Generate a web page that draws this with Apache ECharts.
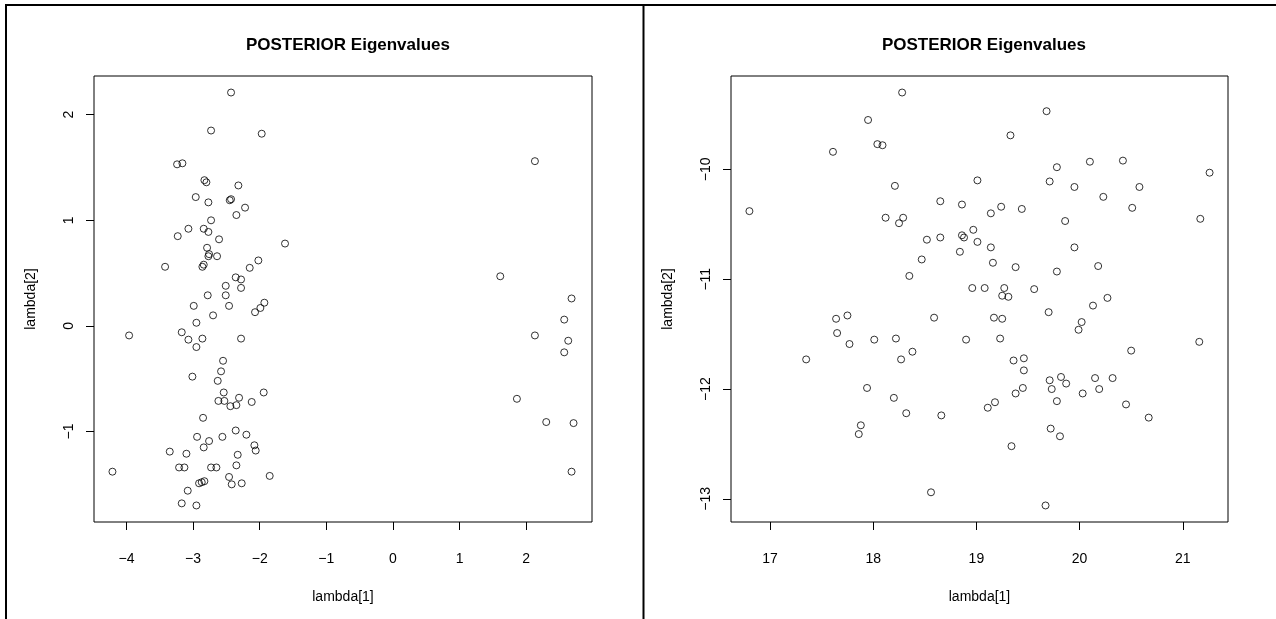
<!DOCTYPE html>
<html>
<head>
<meta charset="utf-8">
<script src="https://cdn.jsdelivr.net/npm/echarts@6/dist/echarts.min.js"></script>
<style>
html,body{margin:0;padding:0;background:#fff;}
#chart{width:1276px;height:619px;}
</style>
</head>
<body>
<div id="chart"></div>
<script>
// ---- Data ----
const chartTitle = "POSTERIOR Eigenvalues";
const xName = "lambda[1]";
const yName = "lambda[2]";

const leftX = [-2.43,-2.73,-1.97,-3.24,-3.16,-2.83,-2.80,-2.32,-2.96,-2.77,-2.43,-2.45,-2.22,-2.35,-2.73,-3.07,-2.84,-2.77,-3.23,-2.61,-1.62,-2.79,-2.76,-2.77,-2.64,-3.42,-2.86,-2.84,-2.02,-2.15,-2.36,-2.28,-2.51,-2.28,-2.78,-2.51,
  -2.99,-2.46,-1.93,-1.99,-2.07,-2.70,-2.95,-3.96,-3.17,-3.07,-2.86,-2.95,-2.28,-2.55,-2.58,-3.01,-2.63,-2.54,-1.94,-2.31,-2.62,-2.53,-2.35,-2.44,-2.12,-2.85,-2.36,-2.20,-2.94,-2.56,-2.76,-2.84,-2.08,-2.06,-3.35,-3.10,-2.33,-2.35,-3.21,-3.13,-2.73,-2.65,-4.21,-2.46,-1.85,-2.91,-2.87,-2.83,-2.42,-2.27,-3.08,-3.17,-2.95,
  1.61,2.68,2.57,2.13,2.63,2.57,1.86,2.30,2.71,2.68,2.13];
const leftY = [2.21,1.85,1.82,1.53,1.54,1.38,1.36,1.33,1.22,1.17,1.20,1.19,1.12,1.05,1.00,0.92,0.92,0.89,0.85,0.82,0.78,0.74,0.68,0.66,0.66,0.56,0.56,0.58,0.62,0.55,0.46,0.44,0.38,0.36,0.29,0.29,
  0.19,0.19,0.22,0.17,0.13,0.10,0.03,-0.09,-0.06,-0.13,-0.12,-0.20,-0.12,-0.33,-0.43,-0.48,-0.52,-0.63,-0.63,-0.68,-0.71,-0.71,-0.75,-0.76,-0.72,-0.87,-0.99,-1.03,-1.05,-1.05,-1.09,-1.15,-1.13,-1.18,-1.19,-1.21,-1.22,-1.32,-1.34,-1.34,-1.34,-1.34,-1.38,-1.43,-1.42,-1.49,-1.48,-1.47,-1.50,-1.49,-1.56,-1.68,-1.70,
  0.47,0.26,0.06,-0.09,-0.14,-0.25,-0.69,-0.91,-0.92,-1.38,1.56];

const rightX = [18.28,17.95,18.04,18.09,17.61,16.80,18.21,19.01,18.65,18.86,18.12,18.29,18.25,18.97,18.52,18.65,18.86,18.88,19.01,18.84,18.47,18.35,18.96,17.64,17.75,18.59,
  19.68,19.33,20.10,20.42,19.78,21.26,19.71,19.95,20.58,20.23,19.24,19.14,19.44,20.51,21.17,19.86,19.14,19.95,19.16,19.38,19.78,20.18,19.08,19.27,19.25,19.31,19.56,20.27,20.13,19.70,19.17,19.25,20.02,
  18.90,19.99,19.23,21.16,20.50,19.36,19.46,19.46,19.71,19.82,19.87,19.73,19.45,19.38,20.15,20.32,20.19,20.03,19.78,19.18,19.11,20.45,20.67,19.72,19.81,19.34,19.67,
  17.65,17.77,17.35,18.01,18.22,18.38,18.27,17.94,18.20,18.32,18.66,17.88,17.86,18.56];
const rightY = [-9.30,-9.55,-9.77,-9.78,-9.84,-10.38,-10.15,-10.10,-10.29,-10.32,-10.44,-10.44,-10.49,-10.55,-10.64,-10.62,-10.60,-10.62,-10.66,-10.75,-10.82,-10.97,-11.08,-11.36,-11.33,-11.35,
  -9.47,-9.69,-9.93,-9.92,-9.98,-10.03,-10.11,-10.16,-10.16,-10.25,-10.34,-10.40,-10.36,-10.35,-10.45,-10.47,-10.71,-10.71,-10.85,-10.89,-10.93,-10.88,-11.08,-11.08,-11.15,-11.16,-11.09,-11.17,-11.24,-11.30,-11.35,-11.36,-11.39,
  -11.55,-11.46,-11.54,-11.57,-11.65,-11.74,-11.72,-11.83,-11.92,-11.89,-11.95,-12.00,-11.99,-12.04,-11.90,-11.90,-12.00,-12.04,-12.11,-12.12,-12.17,-12.14,-12.26,-12.36,-12.43,-12.52,-13.06,
  -11.49,-11.59,-11.73,-11.55,-11.54,-11.66,-11.73,-11.99,-12.08,-12.22,-12.24,-12.33,-12.41,-12.94];

const leftXTicks = [-4,-3,-2,-1,0,1,2];
const leftYTicks = [-1,0,1,2];
const rightXTicks = [17,18,19,20,21];
const rightYTicks = [-13,-12,-11,-10];

// ---- Helpers ----
function extRange(arr){ // R-style 4% range extension
  const mn = Math.min(...arr), mx = Math.max(...arr);
  const d = (mx - mn) * 0.04;
  return [mn - d, mx + d];
}
function pairs(xs, ys){ return xs.map((x,i)=>[x, ys[i]]); }
const FONT = "'Liberation Sans', Arial, Helvetica, sans-serif";

function xAxis(gi, range, ticks){
  return {
    type:'value', gridIndex:gi, min:range[0], max:range[1], position:'bottom',
    name:xName, nameLocation:'middle', nameGap:68,
    nameTextStyle:{color:'#000', fontFamily:FONT, fontSize:14},
    axisLine:{show:false, onZero:false}, splitLine:{show:false},
    axisTick:{show:true, inside:false, length:8, customValues:ticks, lineStyle:{color:'#000', width:1}},
    axisLabel:{show:true, customValues:ticks, margin:30, color:'#000', fontFamily:FONT, fontSize:14,
      formatter:v=>String(v).replace('-', '\u2212')}
  };
}
function yAxis(gi, range, ticks){
  return {
    type:'value', gridIndex:gi, min:range[0], max:range[1], position:'left',
    name:yName, nameLocation:'middle', nameGap:56, nameRotate:90,
    nameTextStyle:{color:'#000', fontFamily:FONT, fontSize:14},
    axisLine:{show:false, onZero:false}, splitLine:{show:false},
    axisTick:{show:true, inside:false, length:8, customValues:ticks, lineStyle:{color:'#000', width:1}},
    axisLabel:{show:true, customValues:ticks, margin:18, rotate:90, color:'#000', fontFamily:FONT, fontSize:14,
      formatter:v=>String(v).replace('-', '\u2212')}
  };
}
function series(xi, yi, data){
  return {
    type:'scatter', xAxisIndex:xi, yAxisIndex:yi, data:data,
    symbol:'circle', symbolSize:7, silent:true,
    itemStyle:{color:'rgba(0,0,0,0)', borderColor:'#000', borderWidth:1},
    emphasis:{disabled:true}
  };
}

const chart = echarts.init(document.getElementById('chart'), null, {renderer:'canvas'});
const option = {
  backgroundColor:'#fff',
  animation:false,
  title:[
    {text:chartTitle, left:343, top:32, textAlign:'center',
      textStyle:{fontFamily:FONT, fontSize:17, fontWeight:'bold', color:'#000'}},
    {text:chartTitle, left:979, top:32, textAlign:'center',
      textStyle:{fontFamily:FONT, fontSize:17, fontWeight:'bold', color:'#000'}}
  ],
  grid:[
    {left:94, top:76, width:498, height:446, show:true, borderColor:'#000', borderWidth:1, backgroundColor:'transparent'},
    {left:731, top:76, width:497, height:446, show:true, borderColor:'#000', borderWidth:1, backgroundColor:'transparent'}
  ],
  xAxis:[ xAxis(0, extRange(leftX), leftXTicks), xAxis(1, extRange(rightX), rightXTicks) ],
  yAxis:[ yAxis(0, extRange(leftY), leftYTicks), yAxis(1, extRange(rightY), rightYTicks) ],
  series:[ series(0,0,pairs(leftX,leftY)), series(1,1,pairs(rightX,rightY)) ],
  graphic:[
    {type:'line', shape:{x1:5, y1:5, x2:1276, y2:5}, style:{stroke:'#000', lineWidth:2}, silent:true},
    {type:'line', shape:{x1:6, y1:4, x2:6, y2:619}, style:{stroke:'#000', lineWidth:2}, silent:true},
    {type:'line', shape:{x1:643.5, y1:4, x2:643.5, y2:619}, style:{stroke:'#000', lineWidth:2}, silent:true}
  ]
};
chart.setOption(option);
</script>
</body>
</html>
